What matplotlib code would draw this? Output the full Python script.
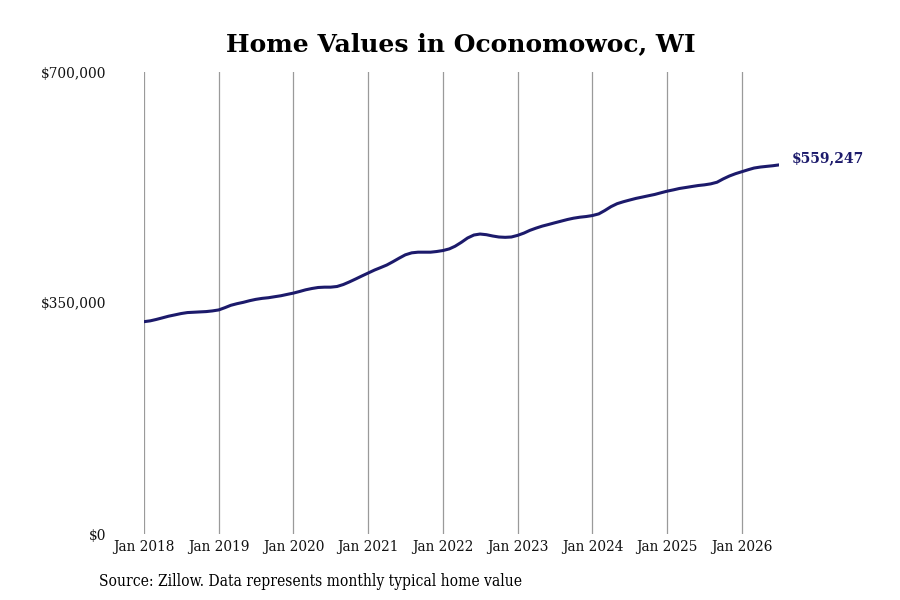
import numpy as np
import pandas as pd
import matplotlib.pyplot as plt
import matplotlib.dates as mdates
from matplotlib.ticker import FuncFormatter

# monthly typical home value, Jan 2018 .. Jul 2026 (in thousands)
start = '2018-01-01'
vals_2018 = [321.7, 323, 325, 327.5, 330, 332, 334, 335.5, 336, 336.5, 337, 338]
vals_2019 = [339.5, 343, 346.5, 349, 351, 353.5, 355.5, 357, 358, 359.5, 361, 363]
vals_2020 = [365, 367.5, 370, 372, 373.5, 374, 374, 375, 378, 382, 386.5, 391]
vals_2021 = [395.5, 400, 403.5, 407.5, 412.5, 418, 423, 426, 427, 427, 427, 428]
vals_2022 = [429.5, 432, 436, 442, 448.5, 453, 454.5, 453.5, 451.5, 450, 449.5, 450]
vals_2023 = [452.5, 456, 460, 463.5, 466.5, 469, 471.5, 474, 476.5, 478.5, 480, 481]
vals_2024 = [482.5, 485, 490, 496, 500.5, 503.5, 506, 508.5, 510.5, 512.5, 514.5, 517]
vals_2025 = [519.5, 521.5, 523.5, 525, 526.5, 528, 529, 530.5, 533, 538, 542.5, 546]
vals_2026 = [549, 552, 554.5, 556, 557, 558, 559.247]

values = np.array(vals_2018 + vals_2019 + vals_2020 + vals_2021 + vals_2022 +
                  vals_2023 + vals_2024 + vals_2025 + vals_2026) * 1000
dates = pd.date_range(start, periods=len(values), freq='MS')

yticks = [0, 350000, 700000]
tick_years = list(range(2018, 2027))
last_label = '$559,247'

navy = '#1c1a6b'
serif = 'DejaVu Serif'

fig = plt.figure(figsize=(9, 6), dpi=100)
ax = fig.add_axes([0.16, 0.11, 0.7056, 0.77])

ax.plot(dates, values, color=navy, lw=2.2, solid_capstyle='round')

ax.set_ylim(0, 700000)
ax.set_xlim(dates[0], dates[-1])
ax.set_yticks(yticks)
ax.yaxis.set_major_formatter(FuncFormatter(lambda v, p: '${:,.0f}'.format(v)))
ax.set_xticks([pd.Timestamp(f'{y}-01-01') for y in tick_years])
ax.xaxis.set_major_formatter(mdates.DateFormatter('Jan %Y'))

ax.grid(axis='x', color='#9a9a9a', lw=0.9)
ax.grid(axis='y', visible=False)
for s in ax.spines.values():
    s.set_visible(False)
ax.tick_params(length=0)
ax.tick_params(axis='y', pad=27)
ax.tick_params(axis='x', pad=4)
for lab in ax.get_xticklabels() + ax.get_yticklabels():
    lab.set_fontfamily(serif)
    lab.set_fontstretch('condensed')
    lab.set_fontsize(11)
    lab.set_color('#111111')

ax.annotate(last_label, xy=(dates[-1], values[-1]), xytext=(9, 5),
            textcoords='offset points', color=navy, fontsize=10,
            fontweight='bold', family=serif, va='center', ha='left')

fig.text(0.512, 0.927, 'Home Values in Oconomowoc, WI', ha='center', va='center',
         fontsize=18, fontweight='bold', family=serif)
fig.text(0.11, 0.031, 'Source: Zillow. Data represents monthly typical home value',
         ha='left', va='center', fontsize=11.2, family=serif, fontstretch='condensed')

fig.savefig('out.png', dpi=100)
